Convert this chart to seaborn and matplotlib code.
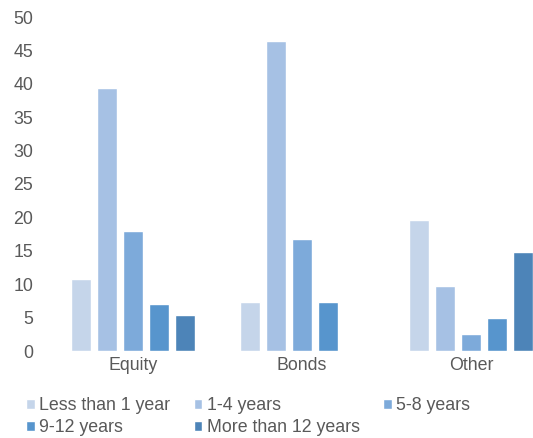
import pandas as pd
import matplotlib.pyplot as plt
import seaborn as sns

# data
categories = ['Equity', 'Bonds', 'Other']
series = ['Less than 1 year', '1-4 years', '5-8 years', '9-12 years', 'More than 12 years']
less_than_1 = [10.8, 7.4, 19.6]
years_1_4 = [39.4, 46.4, 9.8]
years_5_8 = [18.0, 16.7, 2.5]
years_9_12 = [7.1, 7.4, 4.9]
more_than_12 = [5.4, 0.0, 14.8]
colors = ['#C5D5EA', '#A6C1E4', '#7DAADA', '#5795CD', '#4D84B8']

values = [less_than_1, years_1_4, years_5_8, years_9_12, more_than_12]
rows = []
for name, vals in zip(series, values):
    for cat, v in zip(categories, vals):
        rows.append({'category': cat, 'series': name, 'value': v})
df = pd.DataFrame(rows)

sns.set_theme(style='white')
plt.rcParams['font.family'] = ['Liberation Sans', 'DejaVu Sans']
text_color = '#595959'
fs = 12.8

fig = plt.figure(figsize=(5.33, 4.38), dpi=100)
ax = fig.add_axes([48.5 / 533, 87 / 438, 507 / 533, 334 / 438])

sns.barplot(data=df, x='category', y='value', hue='series', order=categories,
            hue_order=series, palette=colors, width=0.77, gap=0.23,
            saturation=1, ax=ax, legend=True)

ax.set_xlim(-0.5, 2.5)
ax.set_ylim(0, 50)
ax.set_yticks(range(0, 51, 5))
ax.set_xlabel('')
ax.set_ylabel('')
sns.despine(ax=ax, left=True, bottom=True)
ax.tick_params(axis='y', length=0, pad=11, labelsize=fs, labelcolor=text_color)
ax.tick_params(axis='x', length=0, pad=4, labelsize=fs, labelcolor=text_color)

# legend row-major: reorder handles for column-major fill
handles, labels = ax.get_legend_handles_labels()
ax.get_legend().remove()
order = [0, 3, 1, 4, 2]
fig.legend([handles[i] for i in order], [labels[i] for i in order],
           ncol=3, loc='upper left', bbox_to_anchor=(26 / 533, 1 - 397 / 438),
           frameon=False, fontsize=fs, labelcolor=text_color,
           handlelength=0.5, handleheight=0.5, handletextpad=0.25,
           columnspacing=1.3, borderpad=0, borderaxespad=0, labelspacing=0.3)

fig.savefig('out.png', dpi=100)
